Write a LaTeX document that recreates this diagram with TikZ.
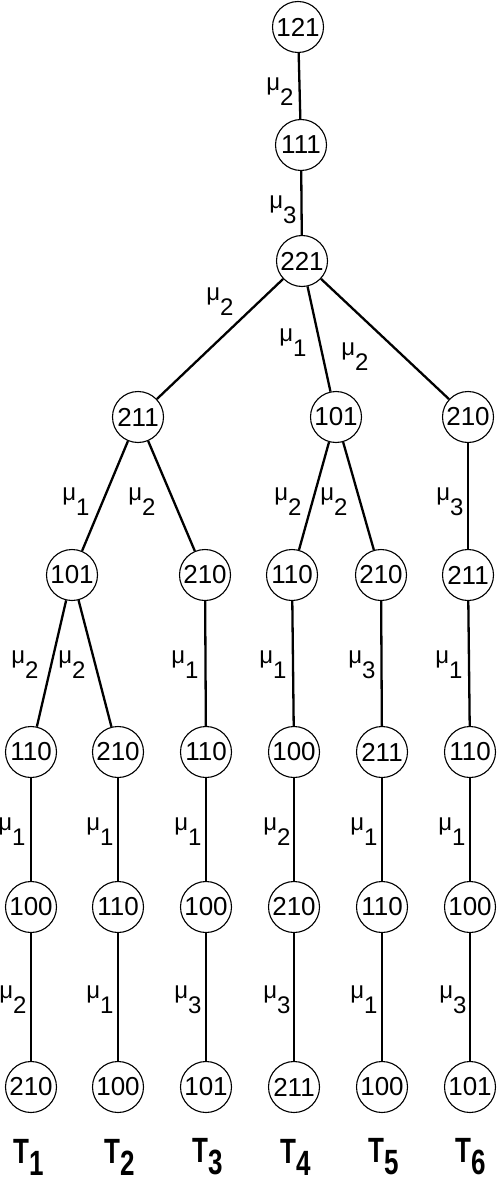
\documentclass[tikz,border=0pt]{standalone}
\usepackage{fontspec}
\usepackage{graphicx}
\setmainfont{Liberation Sans}
\newcommand{\mulab}[1]{μ\raisebox{-15pt}{#1}}
\newcommand{\tlabel}[1]{\scalebox{1}[1.35]{T\raisebox{-9pt}{#1}}}
\tikzset{
  st/.style={circle, draw, line width=1.1pt, minimum size=51pt, inner sep=0pt, font=\fontsize{26}{26}\selectfont},
  lab/.style={inner sep=0pt, font=\fontsize{24}{24}\selectfont},
  tl/.style={inner sep=0pt, font=\fontsize{26}{26}\selectfont\bfseries},
  edge/.style={line width=2.3pt}
}
\begin{document}
\begin{tikzpicture}[x=1pt,y=-1pt]
\useasboundingbox (0,0) rectangle (498,1182);
% nodes
\node[st] (n121) at (298,27) {121};
\node[st] (n111) at (301,145) {111};
\node[st] (n221) at (302,261) {221};
\node[st] (a) at (138,417) {211};
\node[st] (b) at (336,417) {101};
\node[st] (c) at (468,417) {210};
\node[st] (d) at (72,575) {101};
\node[st] (e) at (205,575) {210};
\node[st] (f) at (292,575) {110};
\node[st] (g) at (381,575) {210};
\node[st] (h) at (468,575) {211};
% row 3
\node[st] (r31) at (31,752) {110};
\node[st] (r32) at (118,752) {210};
\node[st] (r33) at (206,752) {110};
\node[st] (r34) at (294,752) {100};
\node[st] (r35) at (382,752) {211};
\node[st] (r36) at (470,752) {110};
% row 4
\node[st] (r41) at (31,907) {100};
\node[st] (r42) at (118,907) {110};
\node[st] (r43) at (206,907) {100};
\node[st] (r44) at (294,907) {210};
\node[st] (r45) at (382,907) {110};
\node[st] (r46) at (470,907) {100};
% row 5
\node[st] (r51) at (31,1087) {210};
\node[st] (r52) at (118,1087) {100};
\node[st] (r53) at (206,1087) {101};
\node[st] (r54) at (294,1087) {211};
\node[st] (r55) at (382,1087) {100};
\node[st] (r56) at (470,1087) {101};
% edges
\draw[edge] (n121) -- (n111);
\draw[edge] (n111) -- (n221);
\draw[edge] (n221) -- (a);
\draw[edge] (n221) -- (b);
\draw[edge] (n221) -- (c);
\draw[edge] (a) -- (d);
\draw[edge] (a) -- (e);
\draw[edge] (b) -- (f);
\draw[edge] (b) -- (g);
\draw[edge] (c) -- (h);
\draw[edge] (d) -- (r31);
\draw[edge] (d) -- (r32);
\draw[edge] (e) -- (r33);
\draw[edge] (f) -- (r34);
\draw[edge] (g) -- (r35);
\draw[edge] (h) -- (r36);
\draw[edge] (r31) -- (r41);
\draw[edge] (r32) -- (r42);
\draw[edge] (r33) -- (r43);
\draw[edge] (r34) -- (r44);
\draw[edge] (r35) -- (r45);
\draw[edge] (r36) -- (r46);
\draw[edge] (r41) -- (r51);
\draw[edge] (r42) -- (r52);
\draw[edge] (r43) -- (r53);
\draw[edge] (r44) -- (r54);
\draw[edge] (r45) -- (r55);
\draw[edge] (r46) -- (r56);
% edge labels
\node[lab] (l1) at (280,92) {\mulab{2}};
\node[lab] (l2) at (283,210) {\mulab{3}};
\node[lab] (l3) at (220,302) {\mulab{2}};
\node[lab] (l4) at (293,343) {\mulab{1}};
\node[lab] (l5) at (355,357) {\mulab{2}};
\node[lab] (l6) at (76,502) {\mulab{1}};
\node[lab] (l7) at (142,502) {\mulab{2}};
\node[lab] (l8) at (288,502) {\mulab{2}};
\node[lab] (l9) at (334,502) {\mulab{2}};
\node[lab] (l10) at (450,502) {\mulab{3}};
\node[lab] (l11) at (25,665) {\mulab{2}};
\node[lab] (l12) at (72,665) {\mulab{2}};
\node[lab] (l13) at (185,665) {\mulab{1}};
\node[lab] (l14) at (273,665) {\mulab{1}};
\node[lab] (l15) at (362,665) {\mulab{3}};
\node[lab] (l16) at (449,665) {\mulab{1}};
\node[lab] (l17) at (12,832) {\mulab{1}};
\node[lab] (l18) at (100,832) {\mulab{1}};
\node[lab] (l19) at (188,832) {\mulab{1}};
\node[lab] (l20) at (277,832) {\mulab{2}};
\node[lab] (l21) at (364,832) {\mulab{1}};
\node[lab] (l22) at (452,832) {\mulab{1}};
\node[lab] (l23) at (13,1000) {\mulab{2}};
\node[lab] (l24) at (100,1000) {\mulab{1}};
\node[lab] (l25) at (188,1000) {\mulab{3}};
\node[lab] (l26) at (277,1000) {\mulab{3}};
\node[lab] (l27) at (364,1000) {\mulab{1}};
\node[lab] (l28) at (453,1000) {\mulab{3}};
% tree labels
\node[tl] (t1) at (29,1157) {\tlabel{1}};
\node[tl] (t2) at (120,1157) {\tlabel{2}};
\node[tl] (t3) at (208,1157) {\tlabel{3}};
\node[tl] (t4) at (296,1157) {\tlabel{4}};
\node[tl] (t5) at (384,1157) {\tlabel{5}};
\node[tl] (t6) at (471,1157) {\tlabel{6}};
\end{tikzpicture}
\end{document}
